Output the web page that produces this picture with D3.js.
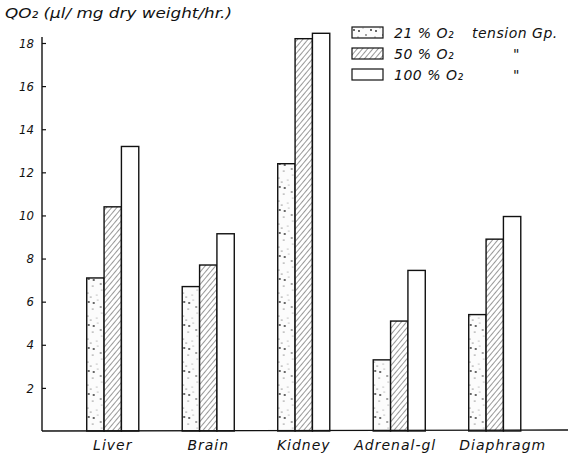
<!DOCTYPE html>
<html>
<head>
<meta charset="utf-8">
<script src="https://cdn.jsdelivr.net/npm/d3@7"></script>
<style>
  body { margin: 0; background: #fff; }
  text { font-family: "DejaVu Sans", sans-serif; font-style: italic; fill: #111; }
</style>
</head>
<body>
<svg id="chart" width="573" height="454"></svg>
<script>
const organs = ['Liver', 'Brain', 'Kidney', 'Adrenal-gl', 'Diaphragm']
const groups = ['21 % O₂', '50 % O₂', '100 % O₂']
const o21 = [7.1, 6.7, 12.4, 3.3, 5.4]
const o50 = [10.4, 7.7, 18.2, 5.1, 8.9]
const o100 = [13.2, 9.15, 18.45, 7.45, 9.95]
const yTicks = [2, 4, 6, 8, 10, 12, 14, 16, 18]

const series = [o21, o50, o100]
const fills = ['url(#dots)', 'url(#hatch)', '#fff']

const svg = d3.select('#chart')

// patterns for the old print look
const defs = svg.append('defs')
const dots = defs.append('pattern')
	.attr('id', 'dots')
	.attr('patternUnits', 'userSpaceOnUse')
	.attr('width', 17).attr('height', 23)
dots.append('rect').attr('width', 17).attr('height', 23).attr('fill', '#fcfcfc')
const dotPos = [[2, 3], [11, 1], [6, 10], [14, 8], [1, 17], [10, 19], [7, 4], [15, 14], [4, 21]]
dots.selectAll('circle')
	.data(dotPos)
	.join('circle')
	.attr('cx', d => d[0]).attr('cy', d => d[1])
	.attr('r', (d, i) => i % 3 === 0 ? 0.9 : 0.55)
	.attr('fill', (d, i) => i % 2 ? '#777' : '#222')

const hatch = defs.append('pattern')
	.attr('id', 'hatch')
	.attr('patternUnits', 'userSpaceOnUse')
	.attr('width', 4).attr('height', 4)
	.attr('patternTransform', 'rotate(40)')
hatch.append('rect').attr('width', 4).attr('height', 4).attr('fill', '#fff')
hatch.append('line')
	.attr('x1', 0).attr('y1', 0).attr('x2', 0).attr('y2', 4)
	.attr('stroke', '#333').attr('stroke-width', 1)

const x0 = d3.scaleBand()
	.domain(organs)
	.range([65, 542.5])
	.paddingInner(0.455)
	.paddingOuter(0.2275)

const x1 = d3.scaleBand()
	.domain(d3.range(groups.length))
	.range([0, x0.bandwidth()])

const y = d3.scaleLinear()
	.domain([0, 18])
	.range([431, 43])

// bars
organs.forEach((org, i) => {
	svg.append('g')
		.attr('transform', `translate(${x0(org)},0)`)
		.selectAll('rect')
		.data(series.map((s, k) => ({ k, v: s[i] })))
		.join('rect')
		.attr('x', d => x1(d.k))
		.attr('width', x1.bandwidth())
		.attr('y', d => y(d.v))
		.attr('height', d => y(0) - y(d.v))
		.attr('fill', d => fills[d.k])
		.attr('stroke', '#111')
		.attr('stroke-width', 1.4)
})

// y axis
const yAxis = d3.axisLeft(y)
	.tickValues(yTicks)
	.tickSize(-4)
	.tickPadding(8)
	.tickFormat(d3.format('d'))

const ga = svg.append('g')
	.attr('transform', 'translate(42,0)')
	.call(yAxis)
ga.select('.domain').remove()
ga.selectAll('.tick line').attr('stroke', '#111').attr('stroke-width', 1.2)
ga.selectAll('.tick text')
	.style('font-family', '"DejaVu Sans Condensed", "DejaVu Sans", sans-serif')
	.style('font-style', 'italic')
	.style('font-size', '13px')
	.attr('fill', '#111')

svg.append('line')
	.attr('x1', 42).attr('x2', 42)
	.attr('y1', 37).attr('y2', y(0))
	.attr('stroke', '#111').attr('stroke-width', 1.4)

// baseline
svg.append('line')
	.attr('x1', 42).attr('x2', 568)
	.attr('y1', y(0)).attr('y2', y(0) - 1)
	.attr('stroke', '#111').attr('stroke-width', 1.4)

// x labels
svg.append('g')
	.selectAll('text')
	.data(organs)
	.join('text')
	.attr('x', (d, i) => x0(d) + x0.bandwidth() / 2 + (i === 4 ? 8 : i === 3 ? -4 : 0))
	.attr('y', 450)
	.attr('text-anchor', 'middle')
	.style('font-size', '14px')
	.style('letter-spacing', '1px')
	.text(d => d)

// y title
svg.append('text')
	.attr('x', 5).attr('y', 18)
	.style('font-size', '14px')
	.attr('textLength', 227)
	.attr('lengthAdjust', 'spacingAndGlyphs')
	.text('QO₂ (μl/ mg dry weight/hr.)')

// legend
const legend = svg.append('g')
	.selectAll('g')
	.data(groups)
	.join('g')
	.attr('transform', (d, i) => `translate(352,${27 + i * 21})`)
legend.append('rect')
	.attr('width', 31).attr('height', 11)
	.attr('fill', (d, i) => fills[i])
	.attr('stroke', '#111').attr('stroke-width', 1.2)
legend.append('text')
	.attr('x', 42).attr('y', 11)
	.style('font-size', '14px')
	.style('letter-spacing', '0.5px')
	.text(d => d)
legend.append('text')
	.attr('x', (d, i) => i === 0 ? 120 : 161)
	.attr('y', 11)
	.style('font-size', '14px')
	.style('letter-spacing', '0.5px')
	.text((d, i) => i === 0 ? 'tension Gp.' : '"')
</script>
</body>
</html>
